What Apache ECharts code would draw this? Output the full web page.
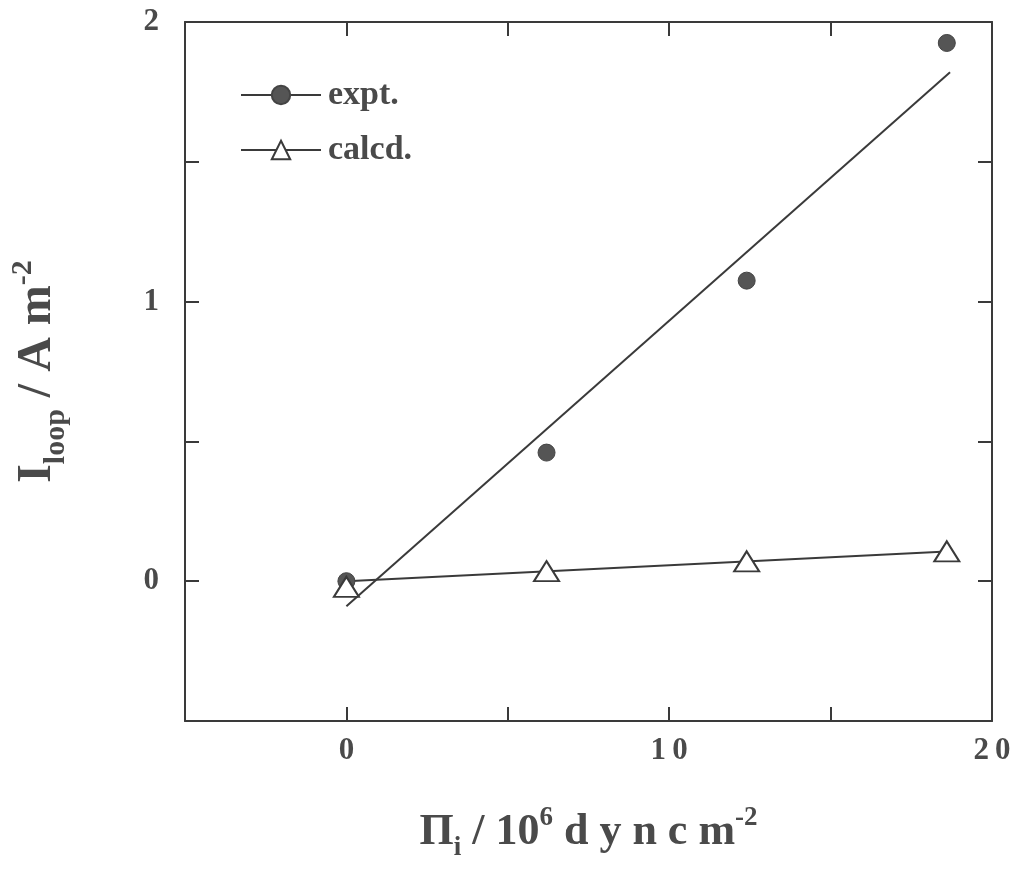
<!DOCTYPE html>
<html>
<head>
<meta charset="utf-8">
<script src="https://cdn.jsdelivr.net/npm/echarts@6/dist/echarts.min.js"></script>
<style>html,body{margin:0;padding:0;background:#fff;}#c{width:1015px;height:870px;}</style>
</head>
<body>
<div id="c"></div>
<script>
// ---- data ----
const pressureX = [0, 6.2, 12.4, 18.6];          // Π_i / 10^6 dyn cm^-2
const exptY     = [0.0, 0.46, 1.075, 1.925];      // I_loop / A m^-2 (expt.)
const calcdY    = [-0.02, 0.036, 0.071, 0.107];   // I_loop / A m^-2 (calcd.)
const fitExptX  = [0, 18.7];
const fitExptY  = [-0.09, 1.82];
const fitCalcdX = [0, 18.6];
const fitCalcdY = [0.0, 0.106];
const xTickLabels = [0, 10, 20];
const yTickLabels = [0, 1, 2];

const zip = (xs, ys) => xs.map((x, i) => [x, ys[i]]);
const FONT = '"Liberation Serif", "DejaVu Serif", serif';
const INK = '#3a3a3a';
const TXT = '#4a4a4a';

const chart = echarts.init(document.getElementById('c'), null, {renderer: 'canvas'});

const axisCommon = {
  axisLine: {show: true, onZero: false, lineStyle: {color: INK, width: 2}},
  axisTick: {show: true, inside: true, length: 14, lineStyle: {color: INK, width: 2}},
  splitLine: {show: false}
};

chart.setOption({
  animation: false,
  backgroundColor: '#fff',
  grid: {left: 183, right: 23, top: 22, bottom: 149, containLabel: false},
  legend: {
    orient: 'vertical',
    left: 235, top: 73,
    itemWidth: 80, itemHeight: 23, itemGap: 21,
    textStyle: {fontFamily: FONT, fontWeight: 'bold', fontSize: 34, lineHeight: 23, color: TXT, padding: [0, 0, 0, 2]},
    lineStyle: {color: INK, width: 2, opacity: 1},
    data: ['expt.', 'calcd.']
  },
  xAxis: [
    Object.assign({}, axisCommon, {
      type: 'value', position: 'bottom', min: -5, max: 20, interval: 5,
      axisLabel: {
        show: true, margin: 14, fontFamily: FONT, fontWeight: 'bold', fontSize: 31, color: TXT,
        formatter: v => xTickLabels.includes(v) ? String(v).split('').join('\u2009') : ''
      },
      name: '{b|Π}{sub|i}{b| / 10}{sup|6}{b| d y n c m}{sup|-2}',
      nameLocation: 'middle', nameGap: 82,
      nameTextStyle: {
        fontFamily: FONT, fontWeight: 'bold', color: TXT,
        rich: {
          b: {fontFamily: FONT, fontWeight: 'bold', fontSize: 44, color: TXT},
          sub: {fontFamily: FONT, fontWeight: 'bold', fontSize: 27, color: TXT, padding: [32, 0, 0, 0]},
          sup: {fontFamily: FONT, fontWeight: 'bold', fontSize: 27, color: TXT, padding: [0, 0, 28, 0]}
        }
      }
    }),
    Object.assign({}, axisCommon, {
      type: 'value', position: 'top', min: -5, max: 20, interval: 5,
      axisLabel: {show: false}
    })
  ],
  yAxis: [
    Object.assign({}, axisCommon, {
      type: 'value', position: 'left', min: -0.5, max: 2, interval: 0.5,
      axisLabel: {
        show: true, margin: 26, fontFamily: FONT, fontWeight: 'bold', fontSize: 31, color: TXT,
        formatter: v => yTickLabels.includes(v) ? String(v) : ''
      },
      name: '{b|I}{sub|loop}{b| / A m}{sup|-2}',
      nameLocation: 'middle', nameGap: 114, nameRotate: 90,
      nameTextStyle: {
        fontFamily: FONT, fontWeight: 'bold', color: TXT,
        rich: {
          b: {fontFamily: FONT, fontWeight: 'bold', fontSize: 48, color: TXT},
          sub: {fontFamily: FONT, fontWeight: 'bold', fontSize: 30, color: TXT, padding: [36, 0, 0, 0]},
          sup: {fontFamily: FONT, fontWeight: 'bold', fontSize: 30, color: TXT, padding: [0, 0, 30, 0]}
        }
      }
    }),
    Object.assign({}, axisCommon, {
      type: 'value', position: 'right', min: -0.5, max: 2, interval: 0.5,
      axisLabel: {show: false}
    })
  ],
  series: [
    {
      name: 'expt.', type: 'line', data: zip(pressureX, exptY),
      symbol: 'circle', symbolSize: 17, showSymbol: true,
      itemStyle: {color: '#555', borderColor: '#444', borderWidth: 1},
      lineStyle: {opacity: 0, width: 2, color: INK}, z: 5
    },
    {
      name: 'calcd.', type: 'line', data: zip(pressureX, calcdY),
      symbol: 'triangle', symbolSize: [25, 20], showSymbol: true,
      itemStyle: {color: '#fff', borderColor: INK, borderWidth: 2},
      lineStyle: {opacity: 0, width: 2, color: INK}, z: 5
    },
    {
      name: 'fit expt', type: 'line', data: zip(fitExptX, fitExptY),
      symbol: 'none', lineStyle: {color: INK, width: 2}, z: 3
    },
    {
      name: 'fit calcd', type: 'line', data: zip(fitCalcdX, fitCalcdY),
      symbol: 'none', lineStyle: {color: INK, width: 2}, z: 3
    }
  ]
});
</script>
</body>
</html>
